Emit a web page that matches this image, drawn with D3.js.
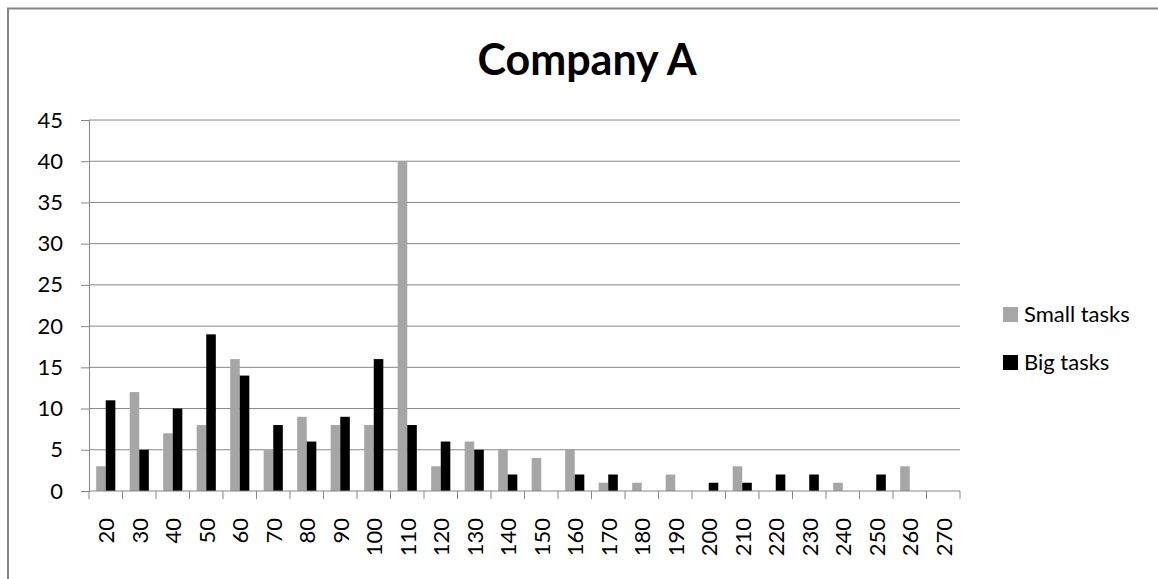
<!DOCTYPE html>
<html>
<head>
<meta charset="utf-8">
<script src="https://cdn.jsdelivr.net/npm/d3@7"></script>
<style>
  body { margin: 0; background: #fff; }
  svg { display: block; font-family: Lato, "Open Sans", sans-serif; }
</style>
</head>
<body>
<svg id="chart" width="1158" height="579"></svg>
<script>
// chart data
const categories = ["20","30","40","50","60","70","80","90","100","110","120","130","140","150","160","170","180","190","200","210","220","230","240","250","260","270"];
const smallTasks = [3,12,7,8,16,5,9,8,8,40,3,6,5,4,5,1,1,2,0,3,0,0,1,0,3,0];
const bigTasks   = [11,5,10,19,14,8,6,9,16,8,6,5,2,0,2,2,0,0,1,1,2,2,0,2,0,0];
const seriesNames = ["Small tasks", "Big tasks"];
const seriesColors = ["#a6a6a6", "#000000"];
const yTicks = [0,5,10,15,20,25,30,35,40,45];

const svg = d3.select("#chart");
const plot = { left: 89, right: 960, top: 120, bottom: 491 };

// outer frame (only top and left visible in the picture)
svg.append("path")
    .attr("d", "M8,579 V8.5 H1158")
    .attr("fill", "none")
    .attr("stroke", "#868686")
    .attr("stroke-width", 2);

// title
svg.append("text")
    .attr("x", 587)
    .attr("y", 75)
    .attr("text-anchor", "middle")
    .attr("font-size", 43)
    .attr("font-weight", "bold")
    .text("Company A");

const x0 = d3.scaleBand().domain(categories).range([plot.left, plot.right]).padding(0);
const x1 = d3.scaleBand().domain(seriesNames).range([0, x0.bandwidth()])
    .paddingInner(0).paddingOuter(0.75);
const y = d3.scaleLinear().domain([0, 45]).range([plot.bottom, plot.top]);

// gridlines
svg.append("g")
    .selectAll("line")
    .data(yTicks.filter(d => d > 0))
    .join("line")
    .attr("x1", plot.left).attr("x2", plot.right)
    .attr("y1", d => y(d)).attr("y2", d => y(d))
    .attr("stroke", "#868686")
    .attr("stroke-width", 1);

// y axis
const yAxis = svg.append("g")
    .attr("transform", `translate(${plot.left},0)`)
    .call(d3.axisLeft(y).tickValues(yTicks).tickSize(8).tickPadding(18));
yAxis.selectAll("line, path").attr("stroke", "#868686");
yAxis.selectAll("text").attr("font-size", 22).attr("fill", "#000")
    .attr("font-family", "Lato, sans-serif");

// bars
const rows = categories.map((c, i) => ({ cat: c, values: [smallTasks[i], bigTasks[i]] }));
svg.append("g")
    .selectAll("g")
    .data(rows)
    .join("g")
    .attr("transform", d => `translate(${x0(d.cat)},0)`)
    .selectAll("rect")
    .data(d => d.values.map((v, j) => ({ name: seriesNames[j], v, color: seriesColors[j] })))
    .join("rect")
    .attr("x", d => x1(d.name))
    .attr("width", x1.bandwidth())
    .attr("y", d => y(d.v))
    .attr("height", d => y(0) - y(d.v))
    .attr("fill", d => d.color);

// x axis: line + tick marks at category boundaries
const xAxis = svg.append("g");
xAxis.append("line")
    .attr("x1", plot.left).attr("x2", plot.right)
    .attr("y1", plot.bottom).attr("y2", plot.bottom)
    .attr("stroke", "#868686");
const bounds = categories.map(c => x0(c)).concat([x0(categories[categories.length - 1]) + x0.bandwidth()]);
xAxis.selectAll("line.tick")
    .data(bounds)
    .join("line")
    .attr("class", "tick")
    .attr("x1", d => d).attr("x2", d => d)
    .attr("y1", plot.bottom).attr("y2", plot.bottom + 8)
    .attr("stroke", "#868686");
xAxis.selectAll("text")
    .data(categories)
    .join("text")
    .attr("transform", d => `translate(${x0(d) + x0.bandwidth() / 2 + 8.5},518) rotate(-90)`)
    .attr("text-anchor", "end")
    .attr("font-size", 22)
    .text(d => d);

// legend
const legend = svg.append("g")
    .selectAll("g")
    .data(seriesNames)
    .join("g")
    .attr("transform", (d, i) => `translate(1003,${307 + i * 48})`);
legend.append("rect")
    .attr("width", 15).attr("height", 15)
    .attr("fill", (d, i) => seriesColors[i]);
legend.append("text")
    .attr("x", 21).attr("y", 15)
    .attr("font-size", 22)
    .text(d => d);
</script>
</body>
</html>
